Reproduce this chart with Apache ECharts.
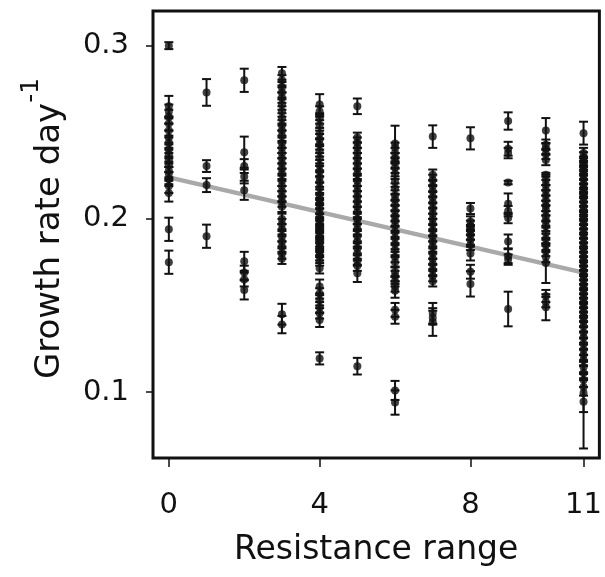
<!DOCTYPE html>
<html>
<head>
<meta charset="utf-8">
<script src="https://cdn.jsdelivr.net/npm/echarts@6/dist/echarts.min.js"></script>
<style>
html,body{margin:0;padding:0;background:#fff;}
#chart{width:605px;height:577px;}
</style>
</head>
<body>
<div id="chart"></div>
<script>
// Each entry: [growth rate, error half-width], grouped by resistance range (0..11)
const range0 = [[0.300,0.002],[0.265,0.006],[0.262,0.004],[0.259,0.004],[0.255,0.004],[0.251,0.004],[0.247,0.004],[0.244,0.004],[0.240,0.004],[0.237,0.004],[0.234,0.004],[0.231,0.004],[0.228,0.004],[0.226,0.004],[0.223,0.004],[0.219,0.004],[0.215,0.005],[0.194,0.0067],[0.175,0.0067]];
const range1 = [[0.273,0.0077],[0.2305,0.0034],[0.2195,0.004],[0.190,0.0067]];
const range2 = [[0.280,0.0067],[0.2385,0.009],[0.2305,0.004],[0.2245,0.004],[0.2165,0.0055],[0.1755,0.0055],[0.169,0.004],[0.165,0.004],[0.159,0.0055]];
const range3 = [[0.284,0.0037],[0.280,0.003],[0.276,0.003],[0.273,0.003],[0.270,0.003],[0.266,0.003],[0.262,0.003],[0.258,0.003],[0.254,0.003],[0.251,0.003],[0.248,0.003],[0.244,0.003],[0.241,0.003],[0.238,0.003],[0.235,0.003],[0.232,0.003],[0.229,0.003],[0.226,0.003],[0.222,0.003],[0.219,0.003],[0.216,0.003],[0.213,0.003],[0.210,0.003],[0.207,0.003],[0.200,0.003],[0.197,0.003],[0.194,0.003],[0.190,0.003],[0.187,0.003],[0.184,0.003],[0.180,0.003],[0.177,0.003],[0.145,0.006],[0.139,0.005]];
const range4 = [[0.266,0.006],[0.262,0.003],[0.258,0.003],[0.254,0.003],[0.2495,0.003],[0.246,0.003],[0.243,0.003],[0.239,0.003],[0.235,0.003],[0.231,0.003],[0.2275,0.003],[0.224,0.003],[0.2215,0.003],[0.218,0.003],[0.214,0.003],[0.211,0.003],[0.209,0.003],[0.206,0.003],[0.203,0.003],[0.200,0.003],[0.198,0.003],[0.196,0.003],[0.193,0.003],[0.191,0.003],[0.189,0.003],[0.186,0.003],[0.184,0.003],[0.181,0.003],[0.179,0.003],[0.176,0.003],[0.1715,0.003],[0.161,0.004],[0.157,0.003],[0.153,0.003],[0.149,0.003],[0.1455,0.003],[0.1416,0.004],[0.1195,0.0035]];
const range5 = [[0.265,0.0045],[0.247,0.0028],[0.244,0.003],[0.241,0.003],[0.238,0.003],[0.235,0.003],[0.232,0.003],[0.229,0.003],[0.226,0.003],[0.222,0.003],[0.219,0.003],[0.216,0.003],[0.213,0.003],[0.210,0.003],[0.207,0.003],[0.204,0.003],[0.200,0.003],[0.197,0.003],[0.194,0.003],[0.190,0.003],[0.187,0.003],[0.183,0.003],[0.180,0.003],[0.176,0.003],[0.173,0.003],[0.1686,0.005],[0.115,0.0048]];
const range6 = [[0.2435,0.0103],[0.241,0.003],[0.238,0.003],[0.235,0.003],[0.2325,0.003],[0.2295,0.003],[0.226,0.003],[0.2215,0.003],[0.2175,0.003],[0.2135,0.003],[0.211,0.003],[0.208,0.003],[0.2045,0.003],[0.2015,0.003],[0.199,0.003],[0.196,0.003],[0.1925,0.003],[0.189,0.003],[0.1855,0.003],[0.182,0.003],[0.178,0.003],[0.175,0.003],[0.1695,0.003],[0.167,0.003],[0.164,0.003],[0.161,0.003],[0.1585,0.004],[0.1475,0.004],[0.1435,0.004],[0.101,0.0055],[0.094,0.007]];
const range7 = [[0.2475,0.0065],[0.2255,0.003],[0.2225,0.003],[0.219,0.003],[0.216,0.003],[0.2125,0.003],[0.2095,0.003],[0.206,0.003],[0.203,0.003],[0.200,0.003],[0.197,0.003],[0.1935,0.003],[0.190,0.003],[0.187,0.003],[0.184,0.003],[0.180,0.003],[0.177,0.003],[0.174,0.003],[0.1705,0.003],[0.167,0.003],[0.164,0.003],[0.1455,0.006],[0.143,0.004],[0.1405,0.008]];
const range8 = [[0.2465,0.0064],[0.206,0.0032],[0.1985,0.003],[0.196,0.003],[0.1935,0.003],[0.191,0.003],[0.188,0.003],[0.185,0.003],[0.180,0.004],[0.1695,0.004],[0.1625,0.0073]];
const range9 = [[0.2565,0.005],[0.2405,0.004],[0.238,0.003],[0.221,0.001],[0.2087,0.006],[0.2045,0.003],[0.2005,0.003],[0.187,0.004],[0.1785,0.004],[0.1765,0.003],[0.148,0.010]];
const range10 = [[0.251,0.0072],[0.2428,0.003],[0.2405,0.003],[0.2375,0.003],[0.234,0.003],[0.2255,0.0011],[0.2225,0.003],[0.2195,0.003],[0.2165,0.003],[0.2135,0.003],[0.2105,0.003],[0.2075,0.003],[0.205,0.003],[0.2015,0.003],[0.199,0.003],[0.196,0.003],[0.192,0.003],[0.1885,0.003],[0.185,0.003],[0.1815,0.003],[0.178,0.003],[0.1745,0.0115],[0.1555,0.0035],[0.152,0.003],[0.149,0.0075]];
const range11 = [[0.2495,0.0066],[0.238,0.003],[0.2355,0.003],[0.233,0.003],[0.2305,0.003],[0.228,0.003],[0.2255,0.003],[0.223,0.003],[0.220,0.003],[0.2175,0.003],[0.215,0.003],[0.2125,0.003],[0.210,0.003],[0.207,0.003],[0.2045,0.003],[0.202,0.003],[0.1995,0.003],[0.197,0.003],[0.194,0.003],[0.1915,0.003],[0.189,0.003],[0.186,0.003],[0.1835,0.003],[0.181,0.003],[0.178,0.003],[0.1755,0.003],[0.173,0.003],[0.170,0.003],[0.1675,0.003],[0.165,0.003],[0.162,0.003],[0.1595,0.003],[0.157,0.003],[0.154,0.003],[0.1515,0.003],[0.149,0.003],[0.146,0.003],[0.1435,0.003],[0.141,0.003],[0.138,0.003],[0.1345,0.003],[0.1315,0.003],[0.128,0.003],[0.1245,0.003],[0.1215,0.003],[0.1185,0.003],[0.1145,0.003],[0.111,0.004],[0.107,0.004],[0.103,0.005],[0.0995,0.011],[0.0945,0.027]];

const rangeGroups = [range0, range1, range2, range3, range4, range5, range6, range7, range8, range9, range10, range11];
// Fitted regression line end points
const fitX = [0, 11];
const fitY = [0.224, 0.169];
const xTicks = [0, 4, 8, 11];
const yTicks = [0.1, 0.2, 0.3];

const points = [];
rangeGroups.forEach((grp, xi) => grp.forEach(d => points.push([xi, d[0], d[1]])));

const FONT = 'DejaVu Sans';
const INK = '#111111';
const chart = echarts.init(document.getElementById('chart'), null, {renderer: 'canvas'});
chart.setOption({
  animation: false,
  backgroundColor: '#fff',
  grid: {left: 153, right: 5, top: 11, bottom: 119, show: true, borderColor: INK, borderWidth: 3, backgroundColor: 'transparent'},
  xAxis: {
    type: 'value', min: -0.42, max: 11.42,
    axisLine: {show: false, onZero: false},
    splitLine: {show: false},
    axisTick: {show: true, customValues: xTicks, length: 9, lineStyle: {color: INK, width: 1.5}},
    axisLabel: {customValues: xTicks, margin: 33, color: INK, fontFamily: FONT, fontSize: 29},
    name: 'Resistance range', nameLocation: 'middle', nameGap: 76,
    nameTextStyle: {color: INK, fontFamily: FONT, fontSize: 33}
  },
  yAxis: {
    type: 'value', min: 0.062, max: 0.320,
    axisLine: {show: false, onZero: false},
    splitLine: {show: false},
    axisTick: {show: true, customValues: yTicks, length: 7, lineStyle: {color: INK, width: 1.5}},
    axisLabel: {customValues: yTicks, margin: 24, color: INK, fontFamily: FONT, fontSize: 29, formatter: v => v.toFixed(1)},
    name: '{a|Growth rate day}{s|-1}', nameLocation: 'middle', nameGap: 86,
    nameTextStyle: {color: INK, fontFamily: FONT, fontSize: 34, padding: [0, 0, 0, 12],
      rich: {a: {fontFamily: FONT, fontSize: 34, color: INK, lineHeight: 48, verticalAlign: 'bottom'},
             s: {fontFamily: FONT, fontSize: 25, color: INK, lineHeight: 48, verticalAlign: 'top'}}}
  },
  series: [
    {
      type: 'line', data: fitX.map((x, i) => [x, fitY[i]]), symbol: 'none', z: 1,
      lineStyle: {color: '#a9a9a9', width: 4.5}, silent: true
    },
    {
      type: 'custom', z: 2, data: points, encode: {x: 0, y: 1},
      renderItem: function (params, api) {
        const x = api.value(0), y = api.value(1), e = api.value(2);
        const hi = api.coord([x, y + e]);
        const lo = api.coord([x, y - e]);
        const hw = 4.5;
        const st = {stroke: INK, lineWidth: 2};
        return {type: 'group', children: [
          {type: 'line', shape: {x1: hi[0], y1: hi[1], x2: lo[0], y2: lo[1]}, style: st},
          {type: 'line', shape: {x1: hi[0] - hw, y1: hi[1], x2: hi[0] + hw, y2: hi[1]}, style: st},
          {type: 'line', shape: {x1: lo[0] - hw, y1: lo[1], x2: lo[0] + hw, y2: lo[1]}, style: st}
        ]};
      }
    },
    {
      type: 'scatter', z: 3, data: points.map(p => [p[0], p[1]]),
      symbol: 'circle', symbolSize: 8, itemStyle: {color: INK}
    }
  ]
});
</script>
</body>
</html>
